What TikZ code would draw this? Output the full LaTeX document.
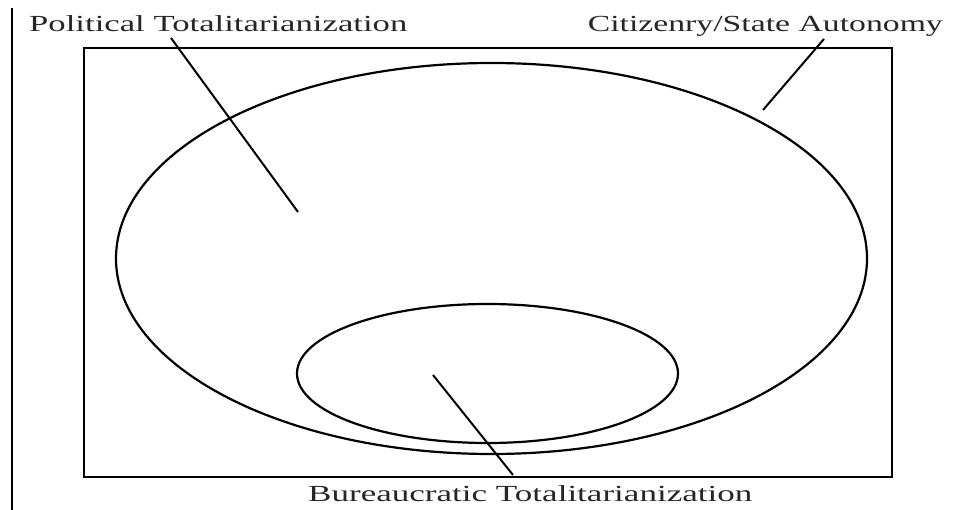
\documentclass[tikz,border=0pt]{standalone}
\usepackage{fontspec}
\usepackage{graphicx}
\setmainfont{Liberation Serif}
\usetikzlibrary{shapes.geometric}
\newcommand{\wide}[2]{\resizebox{#1}{\height}{#2}}
\begin{document}
\begin{tikzpicture}[x=1pt,y=-1pt,
  lab/.style={font=\fontsize{23}{25}\selectfont, inner sep=0pt, text=black!85},
  ln/.style={line width=2pt, black},
  ell/.style={line width=2.2pt, black, draw, ellipse, inner sep=0pt}]
\useasboundingbox[fill=white] (0,0) rectangle (961,510);
\draw[line width=2pt] (12,8) -- (12,510);
\node[draw, line width=2.4pt, inner sep=0pt, minimum width=808pt, minimum height=429pt] (frame) at (488,262.5) {};
\node[ell, minimum width=751pt, minimum height=391pt] (big) at (491.5,258.5) {};
\node[ell, minimum width=381pt, minimum height=139pt] (small) at (487.5,373.5) {};
\node[lab, anchor=base west] (pt) at (29,32) {\wide{378pt}{Political Totalitarianization}};
\node[lab, anchor=base east] (cs) at (943,32) {\wide{355pt}{Citizenry/State Autonomy}};
\node[lab, anchor=base west] (bt) at (308,501) {\wide{444pt}{Bureaucratic Totalitarianization}};
\coordinate (p1) at (171,38);
\coordinate (p2) at (298,212);
\coordinate (c1) at (824,39);
\coordinate (c2) at (763,110);
\coordinate (b1) at (433,375);
\coordinate (b2) at (513,475);
\draw[ln] (p1) -- (p2);
\draw[ln] (c1) -- (c2);
\draw[ln] (b1) -- (b2);
\end{tikzpicture}
\end{document}
